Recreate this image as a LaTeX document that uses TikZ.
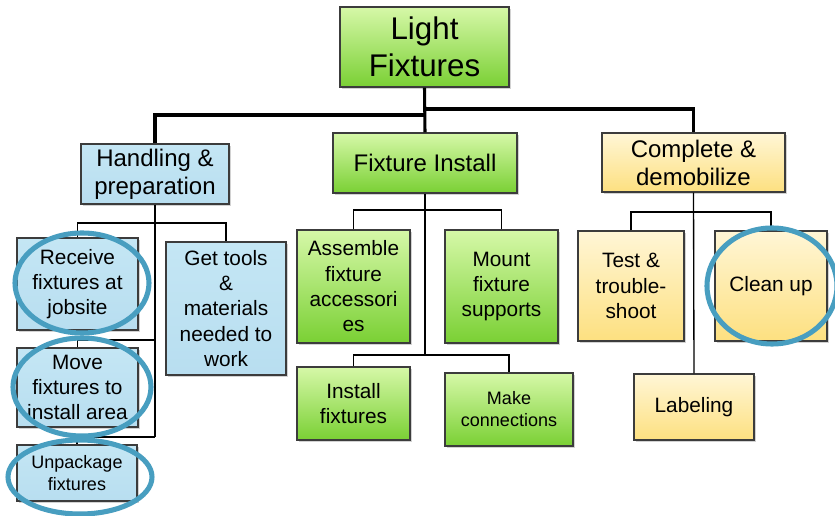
\documentclass[tikz,border=0pt]{standalone}
\usepackage{fontspec}
\setmainfont{Liberation Sans}
\usetikzlibrary{shadows}
\definecolor{gtop}{RGB}{214,248,168}
\definecolor{gbot}{RGB}{122,208,52}
\definecolor{btop}{RGB}{196,230,244}
\definecolor{bbot}{RGB}{184,222,240}
\definecolor{ytop}{RGB}{255,246,214}
\definecolor{ybot}{RGB}{253,224,128}
\definecolor{ring}{RGB}{72,158,192}
\definecolor{edge}{RGB}{60,60,60}
\tikzset{
  box/.style={draw=edge, line width=0.9pt, align=center, inner sep=1pt,
    drop shadow={shadow xshift=1.2pt, shadow yshift=-1.2pt, opacity=0.35}},
  gbox/.style={box, top color=gtop, bottom color=gbot},
  bbox/.style={box, top color=btop, bottom color=bbot},
  ybox/.style={box, top color=ytop, bottom color=ybot},
  fbig/.style={font=\fontsize{23.5}{28}\selectfont},
  fone/.style={font=\fontsize{18}{21}\selectfont},
  ftwo/.style={font=\fontsize{15.6}{19}\selectfont},
  fsm/.style={font=\fontsize{13.5}{16.5}\selectfont},
  thick link/.style={line width=2.3pt, black},
  thin link/.style={line width=1pt, black},
  mark ring/.style={draw=ring, line width=3.8pt},
}
\begin{document}
\begin{tikzpicture}[x=0.75pt,y=-0.75pt]
\useasboundingbox (0,0) rectangle (835,516);
\clip (0,0) rectangle (835,516);
\fill[white] (0,0) rectangle (835,516);
% nodes
\node[gbox,fbig,minimum width=126.75pt,minimum height=60pt] (top) at (424.5,47) {Light\\Fixtures};
\node[bbox,fone,minimum width=111pt,minimum height=45pt] (hand) at (155,174) {Handling \&\\preparation};
\node[gbox,fone,minimum width=138pt,minimum height=45pt] (finst) at (425,163) {Fixture Install};
\node[ybox,fone,minimum width=137.25pt,minimum height=44.25pt] (comp) at (693.5,162.5) {Complete \&\\demobilize};
\node[bbox,ftwo,minimum width=90.75pt,minimum height=69pt] (recv) at (77.5,284) {Receive\\fixtures at\\jobsite};
\node[bbox,ftwo,minimum width=90pt,minimum height=99.75pt] (tools) at (226,308.5) {Get tools\\\&\\materials\\needed to\\work};
\node[bbox,ftwo,minimum width=90.75pt,minimum height=59.25pt] (move) at (77.5,387.5) {Move\\fixtures to\\install area};
\node[bbox,fsm,minimum width=90pt,minimum height=42pt] (unpk) at (77,473) {Unpackage\\fixtures};
\node[gbox,ftwo,minimum width=84.75pt,minimum height=84.75pt] (asm) at (353.5,286.5) {Assemble\\fixture\\accessori\\es};
\node[gbox,ftwo,minimum width=84.75pt,minimum height=84.75pt] (mount) at (501.5,286.5) {Mount\\fixture\\supports};
\node[gbox,ftwo,minimum width=84.75pt,minimum height=54.75pt] (inst) at (353.5,403.5) {Install\\fixtures};
\node[gbox,fsm,minimum width=96pt,minimum height=54.75pt] (make) at (509,409.5) {Make\\connections};
\node[ybox,ftwo,minimum width=79.5pt,minimum height=82.5pt] (test) at (631,286) {Test \&\\trouble-\\shoot};
\node[ybox,ftwo,minimum width=84pt,minimum height=82.5pt] (clean) at (771,286) {Clean up};
\node[ybox,ftwo,minimum width=90pt,minimum height=49.5pt] (label) at (694,407) {Labeling};
% top level links
\draw[thick link] (top.south) -- (finst.north);
\draw[thick link] (top.south |- 0,115) -| (hand.north);
\draw[thick link] (top.south |- 0,109) -| (comp.north);
% handling subtree
\coordinate (hv) at (155,437);
\draw[thin link] (hand.south) -- (hv);
\draw[thin link] (recv.north) |- (tools.north |- 0,223) -- (tools.north);
\draw[thin link] (155,340) -| (move.north);
\draw[thin link] (hv) -| (unpk.north);
% fixture install subtree
\coordinate (fv) at (425,355);
\draw[thin link] (finst.south) -- (fv);
\draw[thin link] (asm.north) |- (mount.north |- 0,210) -- (mount.north);
\draw[thin link] (inst.north) |- (make.north |- fv) -- (make.north);
% complete subtree
\draw[thin link] (comp.south) -- (label.north);
\draw[thin link] (test.north) |- (clean.north |- 0,212) -- (clean.north);
% highlight rings
\draw[mark ring] (82,283) ellipse [x radius=50.25pt, y radius=37.5pt];
\draw[mark ring] (82,387) ellipse [x radius=51.75pt, y radius=36.75pt];
\draw[mark ring] (80,477) ellipse [x radius=54pt, y radius=27.75pt];
\draw[mark ring] (772,286) ellipse [x radius=48.75pt, y radius=43.5pt];
\end{tikzpicture}
\end{document}
